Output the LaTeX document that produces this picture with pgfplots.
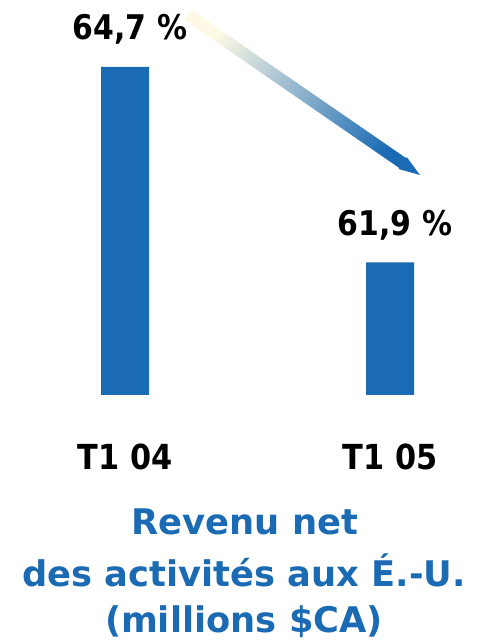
\documentclass[border=0pt]{standalone}
\usepackage{pgfplots}
\pgfplotsset{compat=1.18}
\usepackage{fontspec}
\setmainfont{DejaVu Sans}
\newfontfamily\numfont{DejaVu Sans}[FakeStretch=0.88]
\usetikzlibrary{calc}
\definecolor{barblue}{RGB}{26,106,180}
\definecolor{cream}{RGB}{253,249,228}
\begin{document}
\begin{tikzpicture}[x=1pt,y=1pt]
\useasboundingbox (0,0) rectangle (485,643);
\begin{axis}[
  at={(0pt,248pt)}, anchor=south west,
  scale only axis, width=485pt, height=395pt,
  xmin=-0.4717, xmax=1.3585, ymin=60, ymax=65.66,
  axis line style={draw=none}, tick style={draw=none},
  ymajorticks=false,
  /pgf/number format/assume math mode=true,
  xtick=data, xticklabels={T1 04, T1 05},
  xticklabel style={anchor=base, yshift=-70pt, font=\numfont\fontsize{34.5}{40}\selectfont\bfseries},
  ybar, bar width=48pt,
  nodes near coords={\pgfmathprintnumber[use comma,fixed,fixed zerofill,precision=1]{\pgfplotspointmeta}~\%},
  nodes near coords style={anchor=base, yshift=27pt, xshift=5pt, font=\numfont\fontsize{34}{40}\selectfont\bfseries, black},
]
\addplot[fill=barblue, draw=none] coordinates {(0,64.7) (1,61.9)};
\end{axis}
\coordinate (A) at (188,628);
\coordinate (B) at (420,468);
\coordinate (C) at ($(B)+(-17.3,11.9)$);
\shade[left color=cream, right color=barblue, shading angle=55.7]
  ($(A)!6pt!90:(B)$) -- ($(C)!6pt!90:(B)$) -- ($(C)!7.2pt!90:(B)$) -- (B) --
  ($(C)!7.2pt!-90:(B)$) -- ($(C)!6pt!-90:(B)$) -- ($(A)!6pt!-90:(B)$) -- cycle;
\begin{scope}[every node/.style={anchor=base, text=barblue, font=\fontsize{35.3}{40}\selectfont\bfseries}]
\node at (245,108) {Revenu net};
\node at (244,56) {des activités aux É.-U.};
\node at (244,10) {(millions \$CA)};
\end{scope}
\end{tikzpicture}
\end{document}
